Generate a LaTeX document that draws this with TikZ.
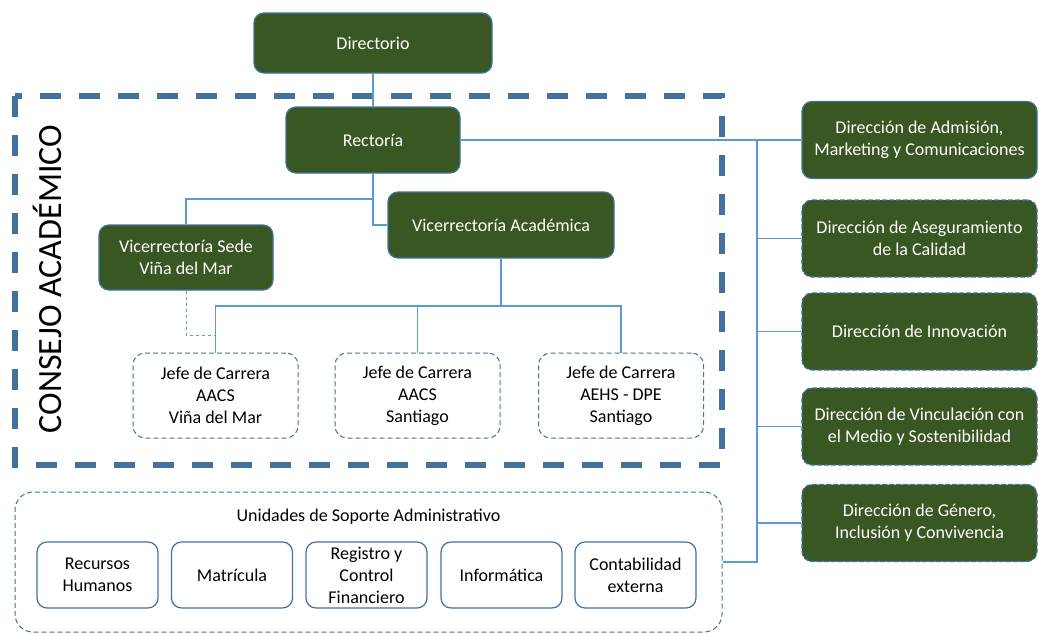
\documentclass[tikz,border=0pt]{standalone}
\usepackage{fontspec}
\setmainfont{Carlito}
\usetikzlibrary{shapes}
\definecolor{verde}{RGB}{56,87,35}
\definecolor{borde}{RGB}{65,113,156}
\definecolor{linea}{RGB}{91,155,213}

\begin{document}
\begin{tikzpicture}[x=1pt,y=-1pt]
\tikzstyle{txt}=[font=\fontsize{18}{22}\selectfont,align=center,inner sep=0pt]
\tikzstyle{cargo}=[txt,rectangle,rounded corners=10pt,draw=borde,line width=1.2pt,fill=verde,text=white]
\tikzstyle{dircargo}=[cargo,minimum width=235pt,minimum height=77pt,dash pattern=on 5pt off 2pt]
\tikzstyle{jefe}=[txt,rectangle,rounded corners=12pt,draw=borde,line width=1pt,dash pattern=on 5pt off 3pt,minimum width=165pt,minimum height=85pt]
\tikzstyle{unidad}=[txt,rectangle,rounded corners=10pt,draw=borde,line width=1.2pt,minimum width=121pt,minimum height=66pt]
\tikzstyle{link}=[draw=linea,line width=1.2pt]
\useasboundingbox (0,0) rectangle (1039,633);

\node[cargo,minimum width=238pt,minimum height=60pt](dir) at (373,43) {Directorio};
\node[cargo,minimum width=174pt,minimum height=66pt](rect) at (373,140) {Rectoría};
\node[cargo,minimum width=226pt,minimum height=66pt](va) at (501,225) {Vicerrectoría Académica};
\node[cargo,minimum width=174pt,minimum height=65pt](vs) at (186,257.5) {Vicerrectoría Sede\\Viña del Mar};

\node[jefe](jefe1) at (215.5,395.5) {Jefe de Carrera\\AACS\\Viña del Mar};
\node[jefe](jefe2) at (417.5,395.5) {Jefe de Carrera\\AACS\\Santiago};
\node[jefe](jefe3) at (621,395.5) {Jefe de Carrera\\AEHS - DPE\\Santiago};

\node[dircargo,solid](adm) at (919.5,140) {Dirección de Admisión,\\Marketing y Comunicaciones};
\node[dircargo](ase) at (919.5,238.5) {Dirección de Aseguramiento\\de la Calidad};
\node[dircargo](inn) at (919.5,331.5) {Dirección de Innovación};
\node[dircargo](vin) at (919.5,426.5) {Dirección de Vinculación con\\el Medio y Sostenibilidad};
\node[dircargo](gen) at (919.5,523) {Dirección de Género,\\Inclusión y Convivencia};

% consejo academico
\draw[borde,line width=5.5pt,dash pattern=on 21pt off 18pt] (15,96) rectangle (722,465);
\node[txt,font=\fontsize{34}{40}\selectfont,rotate=90](consejo) at (47,279) {CONSEJO ACADÉMICO};

% soporte administrativo
\node[jefe,minimum width=707pt,minimum height=140pt,rounded corners=18pt](sop) at (368.5,562) {};
\node[txt](soptit) at (368.5,517) {Unidades de Soporte Administrativo};
\node[unidad](u1) at (97.5,575) {Recursos\\Humanos};
\node[unidad](u2) at (232,575) {Matrícula};
\node[unidad](u3) at (366.5,575) {Registro y\\Control\\Financiero};
\node[unidad](u4) at (501.5,575) {Informática};
\node[unidad](u5) at (635.5,575) {Contabilidad\\externa};

\coordinate (bus) at (757,140);
\coordinate (rv) at (373,199);
\coordinate (jb) at (501,306);
\coordinate (vj) at (215.5,335);

\path[link] (dir) -- (rect)
      (rect.south) |- (va.west)
      (rv) -| (vs.north)
      (va.south) -- (jb)
      (jb) -| (jefe1.north)
      (jb) -| (jefe2.north)
      (jb) -| (jefe3.north)
      (rect.east) -- (adm.west)
      (sop.east) -| (bus)
      (ase.west) -- (ase.west -| bus)
      (inn.west) -- (inn.west -| bus)
      (vin.west) -- (vin.west -| bus)
      (gen.west) -- (gen.west -| bus);
\draw[link,dashed,line width=1pt] (vs.south) |- (vj);

\end{tikzpicture}
\end{document}
